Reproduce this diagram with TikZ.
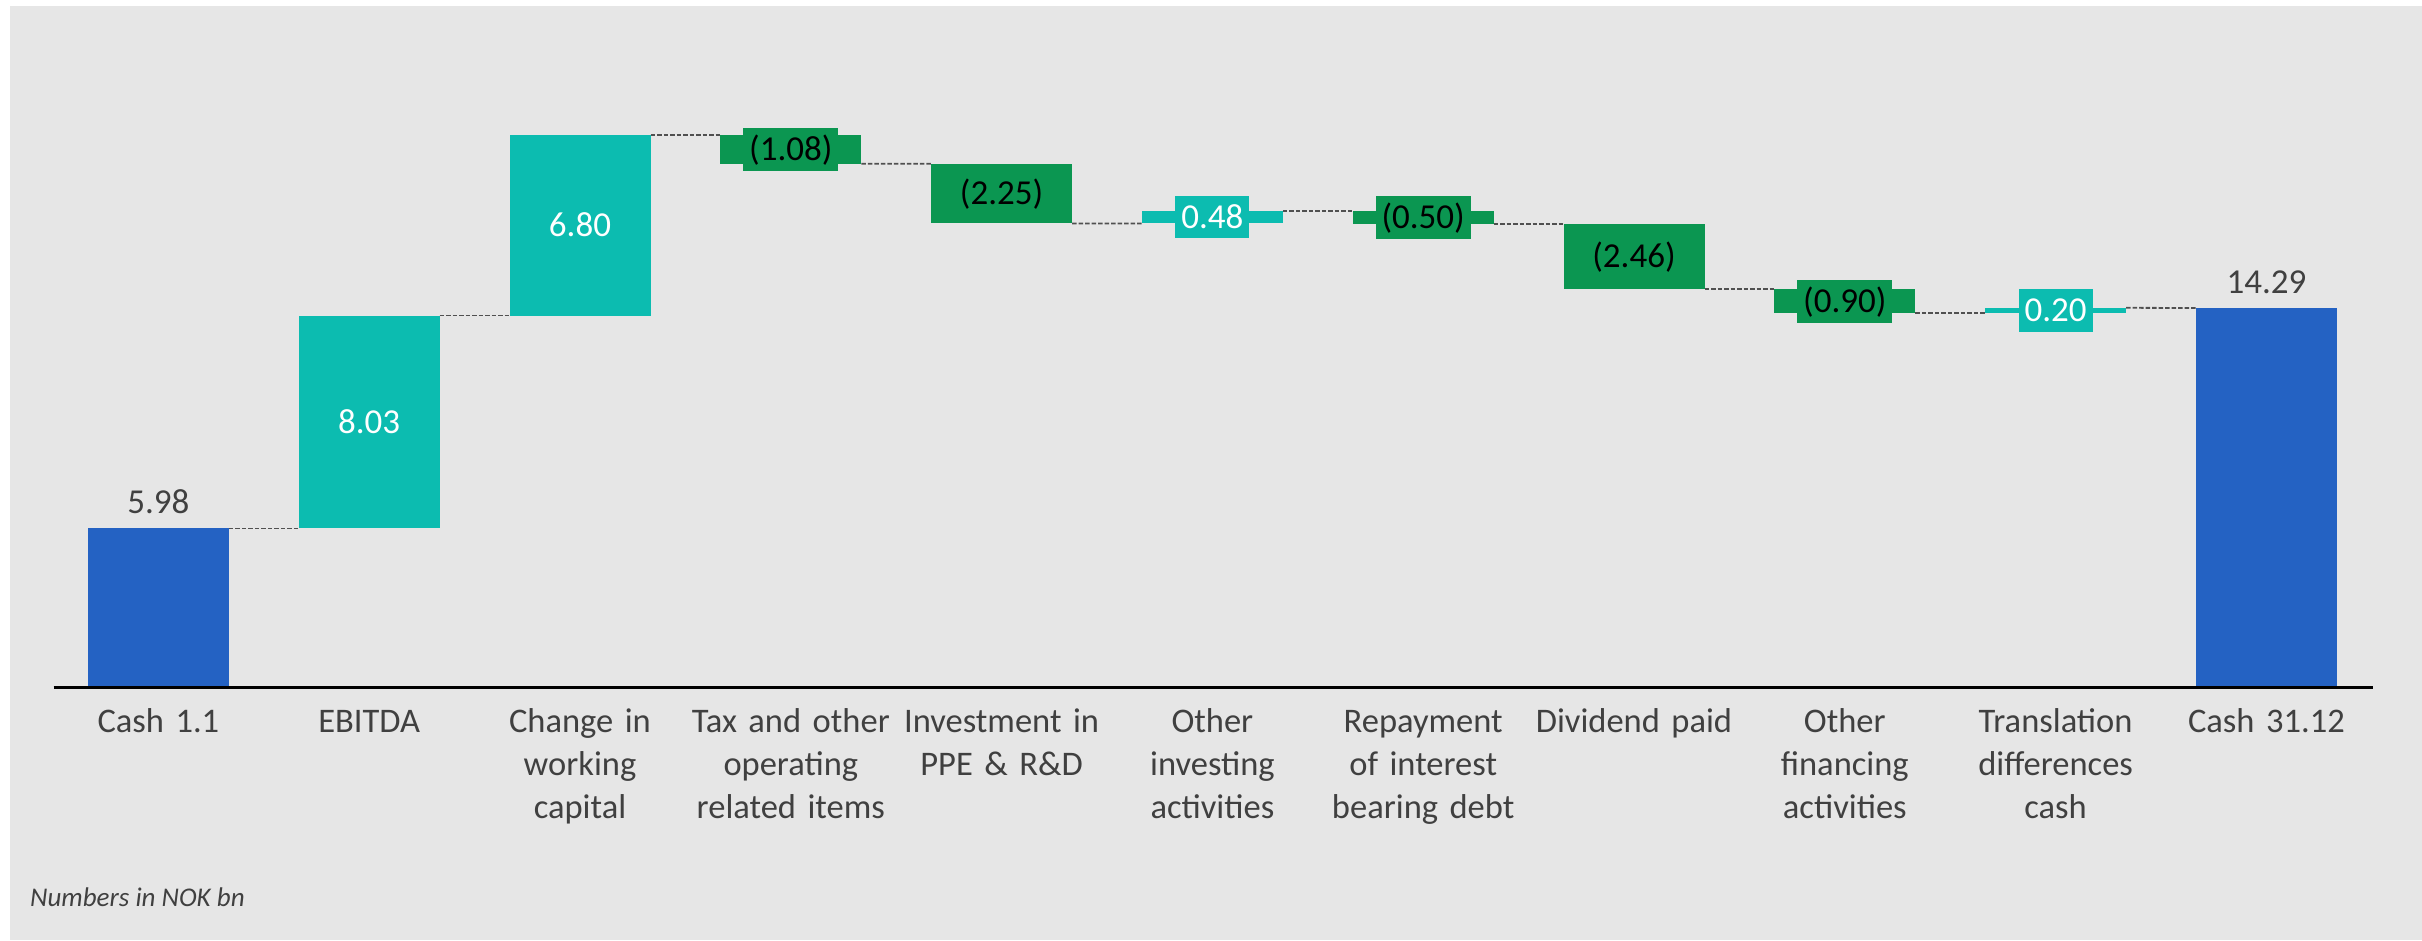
\documentclass[tikz,border=0pt]{standalone}
\usepackage{fontspec}
\setmainfont{Carlito}
\definecolor{bgc}{RGB}{230,230,230}
\definecolor{bluec}{RGB}{36,98,195}
\definecolor{tealc}{RGB}{12,188,176}
\definecolor{greenc}{RGB}{11,150,81}
\definecolor{txtc}{RGB}{64,64,64}
\definecolor{connc}{RGB}{80,80,80}
\begin{document}
\begin{tikzpicture}[x=1pt,y=-1pt,
  bar/.style={rectangle, inner sep=0pt, outer sep=0pt, minimum width=141pt, draw=none},
  valfont/.style={font=\fontsize{35}{42}\selectfont},
  inlbl/.style={valfont, inner sep=0pt, text height=22.2pt, text depth=0pt},
  boxlbl/.style={valfont, inner xsep=6pt, inner ysep=0pt, minimum height=42.7pt, text height=22.2pt, text depth=0pt, text=black},
  toplbl/.style={valfont, anchor=base, inner sep=0pt, text=txtc},
  cat/.style={anchor=north, inner sep=0pt, align=center, text width=210pt, text=txtc, font=\fontsize{34.5}{43}\selectfont},
  conn/.style={draw=connc, line width=1.8pt, dash pattern=on 4.5pt off 2pt},
  axisline/.style={draw=black, line width=2.2pt}
]
\useasboundingbox (0,0) rectangle (2422,940);
\fill[white] (0,0) rectangle (2422,940);
\fill[bgc] (10,6) rectangle (2422,940);

% bars
\node[bar, fill=bluec,  minimum height=158.6pt] (b0)  at (158.4,607.7) {};
\node[bar, fill=tealc,  minimum height=212.9pt] (b1)  at (369.2,421.95) {};
\node[bar, fill=tealc,  minimum height=180.4pt] (b2)  at (580.0,225.3) {};
\node[bar, fill=greenc, minimum height=28.7pt]  (b3)  at (790.8,149.45) {};
\node[bar, fill=greenc, minimum height=59.6pt]  (b4)  at (1001.6,193.6) {};
\node[bar, fill=tealc,  minimum height=12.7pt]  (b5)  at (1212.4,217.05) {};
\node[bar, fill=greenc, minimum height=13.3pt]  (b6)  at (1423.2,217.35) {};
\node[bar, fill=greenc, minimum height=65.2pt]  (b7)  at (1634.0,256.6) {};
\node[bar, fill=greenc, minimum height=23.9pt]  (b8)  at (1844.8,301.15) {};
\node[bar, fill=tealc,  minimum height=5.3pt]   (b9)  at (2055.6,310.45) {};
\node[bar, fill=bluec,  minimum height=379pt]   (b10) at (2266.4,497.5) {};

% connectors
\draw[conn] (b0.north east) -- (b1.south west);
\draw[conn] (b1.north east) -- (b2.south west);
\draw[conn] (b2.north east) -- (b3.north west);
\draw[conn] (b3.south east) -- (b4.north west);
\draw[conn] (b4.south east) -- (b5.south west);
\draw[conn] (b5.north east) -- (b6.north west);
\draw[conn] (b6.south east) -- (b7.north west);
\draw[conn] (b7.south east) -- (b8.north west);
\draw[conn] (b8.south east) -- (b9.south west);
\draw[conn] (b9.north east) -- (b10.north west);

% value labels
\node[toplbl] (v0) at ([yshift=14.5pt]b0.north) {5.98};
\node[inlbl, text=white] (v1) at (b1.center) {8.03};
\node[inlbl, text=white] (v2) at (b2.center) {6.80};
\node[boxlbl, fill=greenc] (v3) at (b3.center) {(1.08)};
\node[inlbl, text=black] (v4) at (b4.center) {(2.25)};
\node[boxlbl, fill=tealc, text=white] (v5) at (b5.center) {0.48};
\node[boxlbl, fill=greenc] (v6) at (b6.center) {(0.50)};
\node[inlbl, text=black] (v7) at (b7.center) {(2.46)};
\node[boxlbl, fill=greenc] (v8) at (b8.center) {(0.90)};
\node[boxlbl, fill=tealc, text=white] (v9) at (b9.center) {0.20};
\node[toplbl] (v10) at ([yshift=15pt]b10.north) {14.29};

% axis
\coordinate (axl) at (53.5,687.5);
\coordinate (axr) at (2373,687.5);
\draw[axisline] (axl) -- (axr);

% category labels
\node[cat] (c0)  at (158.4,702.6)  {\strut Cash 1.1};
\node[cat] (c1)  at (369.2,702.6)  {\strut EBITDA};
\node[cat] (c2)  at (580.0,702.6)  {\strut Change in\\working\\capital};
\node[cat] (c3)  at (790.8,702.6)  {\strut Tax and other\\operating\\related items};
\node[cat] (c4)  at (1001.6,702.6) {\strut Investment in\\PPE \& R\&D};
\node[cat] (c5)  at (1212.4,702.6) {\strut Other\\investing\\activities};
\node[cat] (c6)  at (1423.2,702.6) {\strut Repayment\\of interest\\bearing debt};
\node[cat] (c7)  at (1634.0,702.6) {\strut Dividend paid};
\node[cat] (c8)  at (1844.8,702.6) {\strut Other\\financing\\activities};
\node[cat] (c9)  at (2055.6,702.6) {\strut Translation\\differences\\cash};
\node[cat] (c10) at (2266.4,702.6) {\strut Cash 31.12};

% note
\node[anchor=base west, inner sep=0pt, text=txtc, font=\itshape\fontsize{27}{32}\selectfont] (note) at (30,906.7) {Numbers in NOK bn};
\end{tikzpicture}
\end{document}
